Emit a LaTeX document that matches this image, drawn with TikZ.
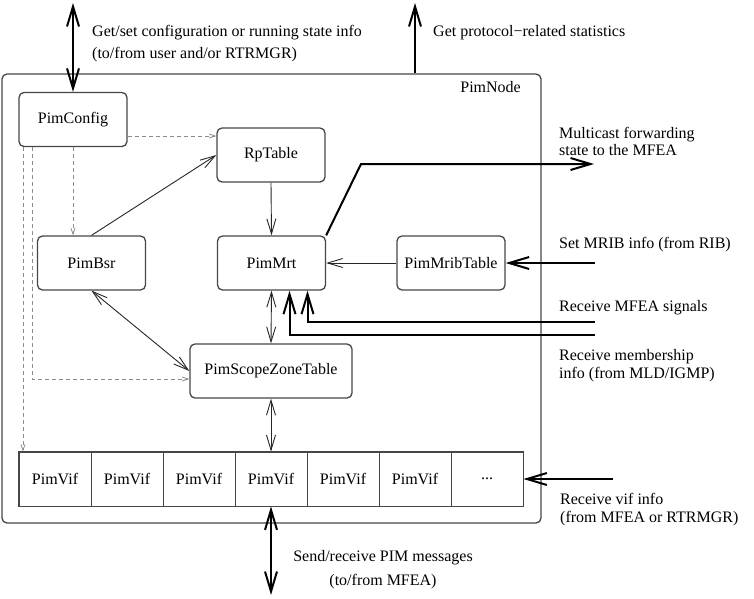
\documentclass[tikz,border=0pt]{standalone}
\usepackage{fontspec}
\setmainfont{Liberation Serif}
\usetikzlibrary{arrows.meta, positioning, calc}
\definecolor{boxgray}{RGB}{70, 70, 70}
\definecolor{dashgray}{RGB}{140, 140, 140}
\newcommand{\pimfont}{\fontsize{16}{18}\selectfont}

\begin{document}
\begin{tikzpicture}[x=1pt, y=-1pt,
  modbox/.style={draw=boxgray, line width=1.3pt, rounded corners=5pt, minimum width=108pt, minimum height=54pt, font=\pimfont, inner sep=2pt},
  vifcell/.style={draw=boxgray, line width=0.8pt, minimum width=72pt, minimum height=54pt, font=\pimfont, inner sep=0pt},
  note/.style={font=\pimfont, align=left, anchor=west, inner sep=0pt},
  thinarrow/.style={-{Straight Barb[length=15pt, width=9pt]}, line width=0.9pt, black!85},
  thinboth/.style={{Straight Barb[length=15pt, width=9pt]}-{Straight Barb[length=15pt, width=9pt]}, line width=0.9pt, black!85},
  bigarrow/.style={-{Straight Barb[length=20pt, width=12pt]}, line width=2pt},
  bigboth/.style={{Straight Barb[length=20pt, width=12pt]}-{Straight Barb[length=20pt, width=12pt]}, line width=2pt},
  dasharrow/.style={-{Straight Barb[length=6pt, width=4pt]}, dashgray, line width=0.8pt, dash pattern=on 4pt off 3pt}]
  \useasboundingbox (0,0) rectangle (754,598);

  % ===== PimNode frame =====
  \node[draw=boxgray, line width=1.3pt, rounded corners=5pt, minimum width=539pt, minimum height=449pt, inner sep=0pt] (pimnode) at (271.5, 298.5) {};
  \node[font=\pimfont, anchor=east, inner sep=0pt] (pimnodelabel) at (521, 87) {PimNode};

  % Modules
  \node[modbox] (pimconfig) at (73, 119.5) {PimConfig};
  \node[modbox] (rptable) at (271, 155) {RpTable};
  \node[modbox] (pimbsr) at (91.5, 263) {PimBsr};
  \node[modbox] (pimmrt) at (271.5, 263) {PimMrt};
  \node[modbox] (pimmrib) at (451, 263) {PimMribTable};
  \node[modbox, minimum width=162pt] (pimscope) at (271, 371) {PimScopeZoneTable};

  % Vif array
  \foreach \i in {1,...,6}
    \node[vifcell] (vif\i) at ({72*\i - 17}, 479) {PimVif};
  \node[vifcell] (vif7) at (487, 479) {...};
  \draw[boxgray, line width=1.3pt] (vif1.north west) rectangle (vif7.south east);

  % Outside ends
  \coordinate (cfgtop) at (73, 3);
  \coordinate (statstop) at (415, 3);
  \coordinate (mfeaout) at (594, 164);
  \coordinate (mribin) at (595, 263);
  \coordinate (sigin) at (595, 322);
  \coordinate (memin) at (595, 335);
  \coordinate (vifin) at (613, 479);
  \coordinate (msgend) at (271, 595);

  % Texts
  \node[note] (cfgtext) at (92, 44) {Get/set configuration or running state info\\[4pt](to/from user and/or RTRMGR)};
  \node[note] (statstext) at (433, 33) {Get protocol−related statistics};
  \node[note] (mfeatext) at (559, 141.5) {Multicast forwarding\\[-1pt]state to the MFEA};
  \node[note] (mribtext) at (559, 245) {Set MRIB info (from RIB)};
  \node[note] (sigtext) at (559, 308) {Receive MFEA signals};
  \node[note] (memtext) at (559, 366) {Receive membership\\info (from MLD/IGMP)};
  \node[note] (viftext) at (560, 510) {Receive vif info\\(from MFEA or RTRMGR)};
  \node[note, align=center, anchor=center] (msgtext) at (383, 570) {Send/receive PIM messages\\[6pt](to/from MFEA)};

  % Arrows
  \draw[bigboth] (cfgtop) -- (pimconfig.north);
  \draw[bigarrow] (pimnode.north -| statstop) -- (statstop);
  \draw[bigarrow] (pimmrt.north east) -- (361, 164) -- (mfeaout);
  \draw[bigarrow] (mribin) -- (pimmrib.east);
  \draw[bigarrow] (sigin) -| ([xshift=36pt]pimmrt.south);
  \draw[bigarrow] (memin) -| ([xshift=18pt]pimmrt.south);
  \draw[bigarrow] (vifin) -- (vif7.east);
  \draw[bigboth] (vif4.south) -- (msgend);

  \draw[thinarrow] (rptable.south) -- (pimmrt.north);
  \draw[thinarrow] (pimmrib.west) -- (pimmrt.east);
  \draw[thinarrow] (pimbsr.north) -- (rptable.west);
  \draw[thinboth] (pimbsr.south) -- (pimscope.west);
  \draw[thinboth] (pimmrt.south) -- (pimscope.north);
  \draw[thinboth] (pimscope.south) -- (vif4.north);

  % Config links
  \coordinate (cfgright) at ([yshift=-16.5pt]pimconfig.east);
  \coordinate (cfgleft) at ([xshift=-50pt]pimconfig.south);
  \coordinate (cfgmid) at ([xshift=-41pt]pimconfig.south);
  \draw[dasharrow] (cfgright) -- (cfgright -| rptable.west);
  \draw[dasharrow] (pimconfig.south) -- (pimconfig.south |- pimbsr.north);
  \draw[dasharrow] (cfgmid) |- ([yshift=-8pt]pimscope.west);
  \draw[dasharrow] (cfgleft) -- (cfgleft |- vif1.north);
\end{tikzpicture}
\end{document}
